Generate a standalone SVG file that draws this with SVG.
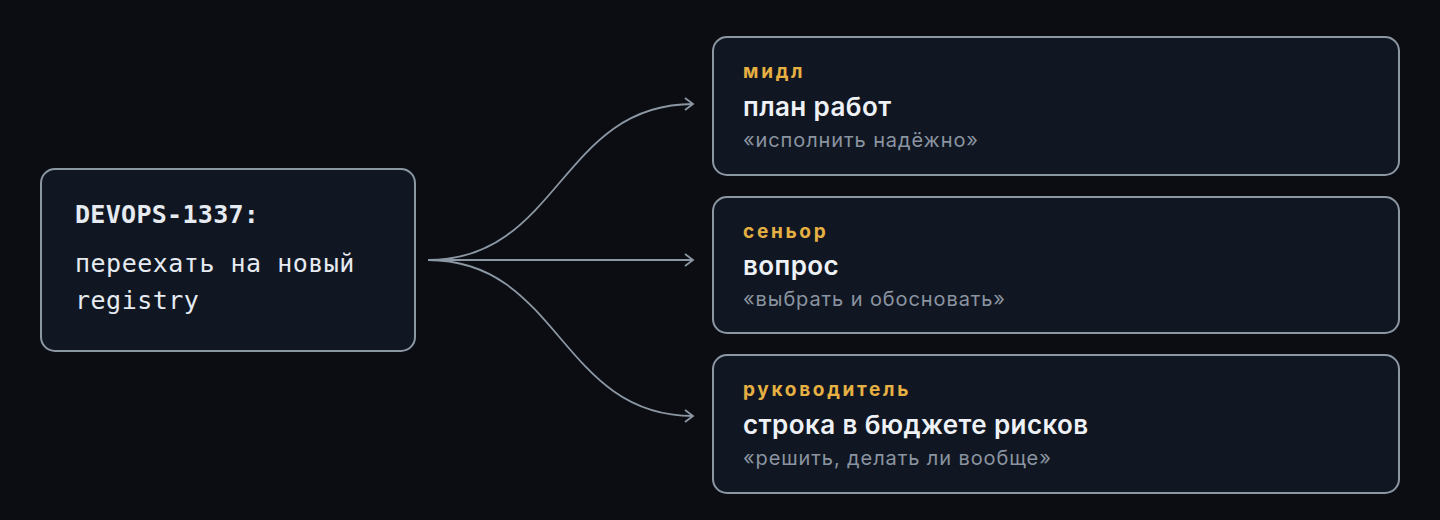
<svg xmlns="http://www.w3.org/2000/svg" width="1440" height="520" viewBox="0 0 1440 520">
<defs>
<style>
.box{fill:#111722;stroke:#8c97a4;stroke-width:2}
.mono{font-family:"DejaVu Sans Mono","Liberation Mono",monospace;fill:#e6ebf1}
.role{font-family:Inter,"Noto Sans",sans-serif;font-weight:700;font-size:19px;letter-spacing:2.7px;fill:#e6b042}
.title{font-family:Inter,"Noto Sans",sans-serif;font-weight:600;font-size:26px;letter-spacing:0.4px;fill:#eef2f6}
.sub{font-family:Inter,"Noto Sans",sans-serif;font-size:20px;letter-spacing:0.9px;fill:#8a94a0}
.edge{fill:none;stroke:#8c97a4;stroke-width:1.8}
</style>
<marker id="arr" markerWidth="14" markerHeight="14" refX="10" refY="7" orient="auto" markerUnits="userSpaceOnUse">
<path d="M2,1 L10,7 L2,13" fill="none" stroke="#8c97a4" stroke-width="1.8"/>
</marker>
</defs>
<rect width="1440" height="520" fill="#0b0d12"/>
<g id="connectors">
<path class="edge" d="M428,260 C560,260 560,104 693,104" marker-end="url(#arr)"/>
<path class="edge" d="M428,260 L693,260" marker-end="url(#arr)"/>
<path class="edge" d="M428,260 C560,260 560,416 693,416" marker-end="url(#arr)"/>
</g>
<g id="task">
<rect class="box" x="41" y="169" width="374" height="182" rx="14"/>
<text class="mono" x="75" y="223" font-size="25" font-weight="700" letter-spacing="0.3">DEVOPS-1337:</text>
<text class="mono" x="75" y="272" font-size="25" letter-spacing="0.5">переехать на новый</text>
<text class="mono" x="75" y="309" font-size="25" letter-spacing="0.5">registry</text>
</g>
<g id="middle">
<rect class="box" x="713" y="37" width="686" height="138" rx="14"/>
<text class="role" x="743" y="78">мидл</text>
<text class="title" x="743" y="116">план работ</text>
<text class="sub" x="743" y="147">«исполнить надёжно»</text>
</g>
<g id="senior">
<rect class="box" x="713" y="197" width="686" height="136" rx="14"/>
<text class="role" x="743" y="238">сеньор</text>
<text class="title" x="743" y="275">вопрос</text>
<text class="sub" x="743" y="306">«выбрать и обосновать»</text>
</g>
<g id="lead">
<rect class="box" x="713" y="355" width="686" height="138" rx="14"/>
<text class="role" x="743" y="396">руководитель</text>
<text class="title" x="743" y="434">строка в бюджете рисков</text>
<text class="sub" x="743" y="465">«решить, делать ли вообще»</text>
</g>
</svg>
